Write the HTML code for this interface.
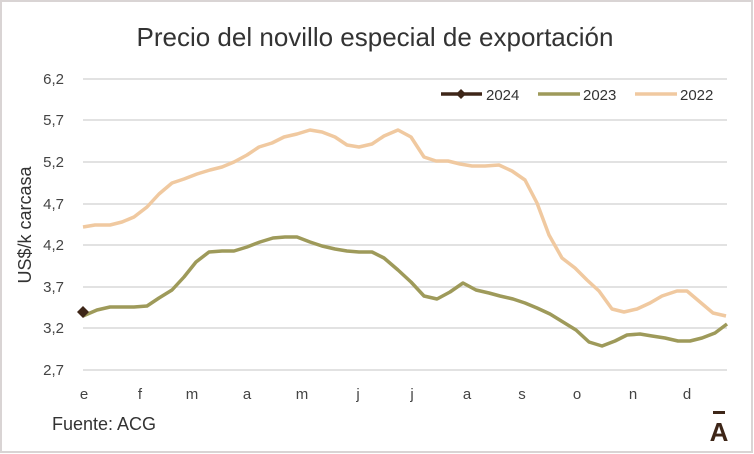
<!DOCTYPE html>
<html><head><meta charset="utf-8"><style>
body{margin:0;background:#fff;}
svg{display:block;font-family:"Liberation Sans",sans-serif;}
</style></head><body>
<svg width="754" height="454" viewBox="0 0 754 454">
<rect x="1" y="1" width="751" height="451" fill="#fff" stroke="#d9d4d4" stroke-width="2"/>
<text x="375" y="46" text-anchor="middle" font-size="26" fill="#333">Precio del novillo especial de exportación</text>
<g stroke="#d9d9d9" stroke-width="1.5">
<line x1="83" x2="727" y1="79" y2="79"/><line x1="83" x2="727" y1="120" y2="120"/>
<line x1="83" x2="727" y1="162" y2="162"/><line x1="83" x2="727" y1="204" y2="204"/>
<line x1="83" x2="727" y1="245" y2="245"/><line x1="83" x2="727" y1="287" y2="287"/>
<line x1="83" x2="727" y1="328" y2="328"/><line x1="83" x2="727" y1="370" y2="370"/>
</g>
<g font-size="15" fill="#444" text-anchor="end">
<text x="64" y="84">6,2</text><text x="64" y="125">5,7</text><text x="64" y="167">5,2</text>
<text x="64" y="209">4,7</text><text x="64" y="250">4,2</text><text x="64" y="292">3,7</text>
<text x="64" y="333">3,2</text><text x="64" y="375">2,7</text>
</g>
<text transform="translate(31,225) rotate(-90)" text-anchor="middle" font-size="18" fill="#333">US$/k carcasa</text>
<g font-size="15" fill="#444" text-anchor="middle">
<text x="84" y="399">e</text><text x="140" y="399">f</text><text x="192" y="399">m</text>
<text x="247" y="399">a</text><text x="302" y="399">m</text><text x="358" y="399">j</text>
<text x="412" y="399">j</text><text x="467" y="399">a</text><text x="522" y="399">s</text>
<text x="577" y="399">o</text><text x="633" y="399">n</text><text x="687" y="399">d</text>
</g>
<polyline fill="none" stroke="#F0C9A0" stroke-width="3.5" stroke-linejoin="round" points="83,227 95,225 110,225 122,222 134,217 147,207 159,194 172,183 184,179 197,174 210,170 222,167 234,162 247,155 259,147 272,143 284,137 297,134 310,130 322,132 335,137 347,145 359,147 372,144 384,136 398,130 411,137 424,157 436,161 448,161 460,164 472,166 485,166 499,165 512,171 525,180 537,203 549,235 562,258 575,268 587,280 599,291 612,309 624,312 637,309 650,303 662,296 677,291 687,291 700,302 713,313 726,316"/>
<polyline fill="none" stroke="#9E9A5A" stroke-width="3.5" stroke-linejoin="round" points="83,316 97,310 110,307 122,307 134,307 147,306 159,298 172,290 184,277 196,262 209,252 222,251 234,251 247,247 260,242 273,238 285,237 297,237 310,242 322,246 335,249 347,251 359,252 372,252 384,258 398,270 411,282 424,296 437,299 450,292 463,283 476,290 489,293 500,296 513,299 525,303 537,308 550,314 563,322 576,330 589,342 602,346 615,341 627,335 640,334 652,336 665,338 678,341 690,341 702,338 715,333 727,324"/>
<polygon points="83,306 89,312 83,318 77,312" fill="#3E2618"/>
<line x1="441" x2="482" y1="94" y2="94" stroke="#3E2618" stroke-width="3.5"/>
<polygon points="461,89 466,94 461,99 456,94" fill="#3E2618"/>
<text x="486" y="100" font-size="15" fill="#333">2024</text>
<line x1="538" x2="580" y1="94" y2="94" stroke="#9E9A5A" stroke-width="3.5"/>
<text x="583" y="100" font-size="15" fill="#333">2023</text>
<line x1="635" x2="677" y1="94" y2="94" stroke="#F0C9A0" stroke-width="3.5"/>
<text x="680" y="100" font-size="15" fill="#333">2022</text>
<text x="52" y="430" font-size="18" fill="#333">Fuente: ACG</text>
<text x="719" y="441" text-anchor="middle" font-size="26" font-weight="bold" fill="#3E2618">A</text>
<rect x="713" y="411" width="12" height="3" fill="#3E2618"/>
</svg>
</body></html>
